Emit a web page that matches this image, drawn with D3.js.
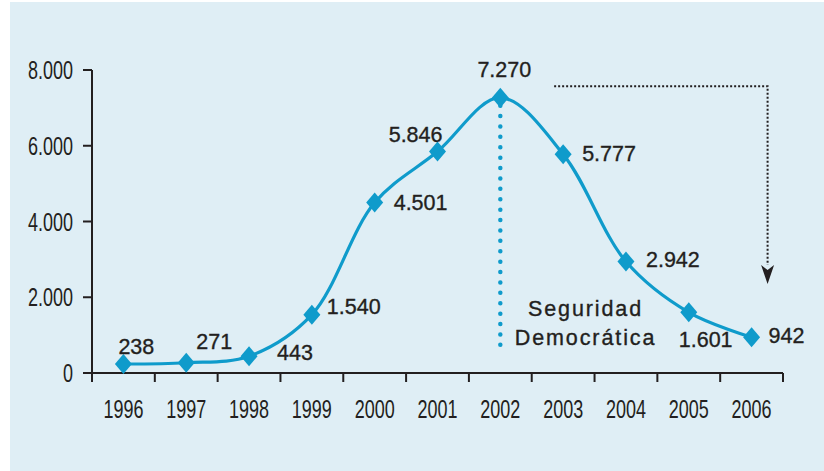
<!DOCTYPE html>
<html>
<head>
<meta charset="utf-8">
<script src="https://cdn.jsdelivr.net/npm/d3@7"></script>
<style>
  body { margin: 0; background: #fff; }
  svg { display: block; }
  .lbl { font-family: "Liberation Sans", Arial, sans-serif; font-size: 21.5px; fill: #231f20; stroke: #231f20; stroke-width: 0.35px; }
  .axis text { font-family: "Liberation Sans", Arial, sans-serif; font-size: 25px; fill: #231f20; }
</style>
</head>
<body>
<svg id="chart" width="824" height="471"></svg>
<script>
// data
var years = ["1996","1997","1998","1999","2000","2001","2002","2003","2004","2005","2006"];
var values = [238, 271, 443, 1540, 4501, 5846, 7270, 5777, 2942, 1601, 942];
var yTicks = [0, 2000, 4000, 6000, 8000];
var noteLines = ["Seguridad", "Democrática"];

// label placement (dx, dy, anchor) per point
var labelPos = [
  [-5, -10, "start"], [10, -14, "start"], [28, 4, "start"], [15, -1, "start"],
  [19, 7, "start"], [5, -10, "end"], [4, -21, "middle"], [19, 7, "start"],
  [20, 5, "start"], [-10, 35, "start"], [17, 6, "start"]
];

var svg = d3.select("#chart"),
    width = +svg.attr("width"),
    height = +svg.attr("height");

var blue = "#0f9bcb";
var narrow = 0.72; // condensed look for axis labels
var fmt = function(v) { return d3.format(",")(v).replace(/,/g, "."); };

svg.append("rect")
  .attr("x", 10).attr("y", 2)
  .attr("width", width - 10).attr("height", height - 2)
  .attr("fill", "#dfeef5");

var margin = {left: 92, right: 41, top: 70, bottom: 98};

var x = d3.scaleBand()
  .domain(years)
  .range([margin.left, width - margin.right]);

var y = d3.scaleLinear()
  .domain([0, 8000])
  .range([height - margin.bottom, margin.top]);

// axes
var xAxis = svg.append("g")
  .attr("class", "axis")
  .attr("transform", "translate(0," + y(0) + ")");

xAxis.append("line")
  .attr("x1", x.range()[0]).attr("x2", x.range()[1])
  .attr("stroke", "#231f20").attr("stroke-width", 2);

var bounds = years.map(function(d) { return x(d); }).concat([x.range()[1]]);
xAxis.selectAll(".tk")
  .data(bounds)
  .enter().append("line")
  .attr("x1", function(d) { return d; }).attr("x2", function(d) { return d; })
  .attr("y1", 0).attr("y2", 9)
  .attr("stroke", "#231f20").attr("stroke-width", 2);

xAxis.selectAll(".yr")
  .data(years)
  .enter().append("text")
  .attr("transform", function(d) {
    return "translate(" + (x(d) + x.bandwidth() / 2) + ",45) scale(" + narrow + ",1)";
  })
  .attr("text-anchor", "middle")
  .text(function(d) { return d; });

var yAxis = svg.append("g")
  .attr("class", "axis")
  .attr("transform", "translate(" + margin.left + ",0)");

yAxis.append("line")
  .attr("y1", y(0) + 9).attr("y2", y(8000))
  .attr("stroke", "#231f20").attr("stroke-width", 2);

yAxis.selectAll(".tk")
  .data(yTicks)
  .enter().append("line")
  .attr("x1", -9).attr("x2", 0)
  .attr("y1", function(d) { return y(d); }).attr("y2", function(d) { return y(d); })
  .attr("stroke", "#231f20").attr("stroke-width", 2);

yAxis.selectAll(".tl")
  .data(yTicks)
  .enter().append("text")
  .attr("transform", function(d) {
    return "translate(-19," + (y(d) + 9) + ") scale(" + narrow + ",1)";
  })
  .attr("text-anchor", "end")
  .text(function(d) { return fmt(d); });

var cx = function(i) { return x(years[i]) + x.bandwidth() / 2; };
var peak = values.indexOf(d3.max(values));

// dotted marker for 2002
svg.append("line")
  .attr("x1", cx(peak)).attr("x2", cx(peak))
  .attr("y1", y(values[peak]) + 8).attr("y2", y(0) - 20)
  .attr("stroke", blue).attr("stroke-width", 4.5)
  .attr("stroke-linecap", "round")
  .attr("stroke-dasharray", "0 10.4");

// black dotted arrow
var ay = y(7570), ax0 = cx(7) - 9, ax1 = cx(10) + 16, ayEnd = y(2850);
svg.append("path")
  .attr("d", "M" + ax0 + "," + ay + "H" + ax1 + "V" + ayEnd)
  .attr("fill", "none")
  .attr("stroke", "#231f20").attr("stroke-width", 2)
  .attr("stroke-dasharray", "2 2");
svg.append("path")
  .attr("d", "M" + (ax1 - 6.5) + "," + ayEnd + "L" + ax1 + "," + (ayEnd + 5) +
             "L" + (ax1 + 6.5) + "," + ayEnd + "L" + ax1 + "," + (ayEnd + 19) + "Z")
  .attr("fill", "#231f20");

// line
var line = d3.line()
  .x(function(d, i) { return cx(i); })
  .y(function(d) { return y(d); })
  .curve(d3.curveCatmullRom.alpha(0.5));

svg.append("path")
  .datum(values)
  .attr("d", line)
  .attr("fill", "none")
  .attr("stroke", blue)
  .attr("stroke-width", 3.2);

svg.selectAll(".pt")
  .data(values)
  .enter().append("path")
  .attr("transform", function(d, i) { return "translate(" + cx(i) + "," + y(d) + ")"; })
  .attr("d", "M0,-10L8.5,0L0,10L-8.5,0Z")
  .attr("fill", blue);

svg.selectAll(".vl")
  .data(values)
  .enter().append("text")
  .attr("class", "lbl")
  .attr("x", function(d, i) { return cx(i) + labelPos[i][0]; })
  .attr("y", function(d, i) { return y(d) + labelPos[i][1]; })
  .attr("text-anchor", function(d, i) { return labelPos[i][2]; })
  .text(function(d) { return fmt(d); });

// note
svg.selectAll(".note")
  .data(noteLines)
  .enter().append("text")
  .attr("class", "lbl")
  .attr("x", (cx(7) + cx(8)) / 2 - 9)
  .attr("y", function(d, i) { return y(1500) + i * 29; })
  .attr("text-anchor", "middle")
  .style("letter-spacing", "1.9px")
  .text(function(d) { return d; });
</script>
</body>
</html>
